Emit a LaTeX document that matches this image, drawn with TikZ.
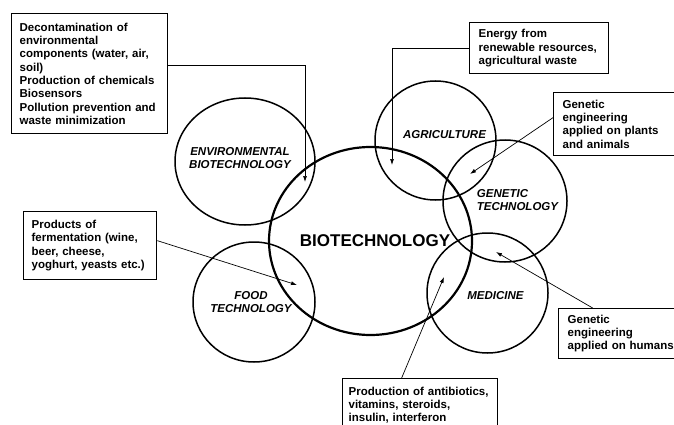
\documentclass[tikz,border=0pt]{standalone}
\usepackage{fontspec}
\setmainfont{Liberation Sans}
\usetikzlibrary{arrows.meta,shapes.geometric}
\tikzset{
    infobox/.style={draw,line width=1.3pt,align=left,anchor=north west,inner xsep=8pt,inner ysep=0pt,
        font=\fontsize{11.5}{13.3}\selectfont\bfseries},
    field/.style={draw,ellipse,line width=1.5pt,inner sep=0pt},
    fieldlabel/.style={align=center,font=\fontsize{11.5}{12.5}\selectfont\bfseries\itshape},
    conn/.style={-{Latex[length=6pt,width=4pt]},line width=0.7pt}
}
\begin{document}
\begin{tikzpicture}[x=1pt,y=-1pt]
    \useasboundingbox (0,0) rectangle (674,425);
    % circles
    \node[field,minimum width=140,minimum height=127] (env) at (245,161.5) {};
    \node[field,minimum width=121,minimum height=119] (agri) at (435.5,140.5) {};
    \node[field,minimum width=124,minimum height=122] (gen) at (505,201) {};
    \node[field,minimum width=121,minimum height=120] (med) at (487.5,293) {};
    \node[field,minimum width=122,minimum height=120] (food) at (254,302) {};
    \node[field,line width=2.2pt,minimum width=203,minimum height=188] (bio) at (370.5,241) {};
    % circle labels
    \node[fieldlabel] (envlabel) at (240,158) {ENVIRONMENTAL\\BIOTECHNOLOGY};
    \node[fieldlabel] (agrilabel) at (444.5,134.5) {AGRICULTURE};
    \node[fieldlabel,align=left] (genlabel) at (517.5,200) {GENETIC\\TECHNOLOGY};
    \node[fieldlabel] (medlabel) at (495.5,295.5) {MEDICINE};
    \node[fieldlabel] (foodlabel) at (251,302) {FOOD\\TECHNOLOGY};
    \node[font=\fontsize{17}{20}\selectfont\bfseries] (biolabel) at (375,241) {BIOTECHNOLOGY};
    % boxes
    \node[infobox,text width=140,minimum height=120] (envbox) at (11,13)
        {Decontamination of\\environmental\\components (water, air,\\soil)\\Production of chemicals\\Biosensors\\Pollution prevention and\\waste minimization};
    \node[infobox,inner xsep=9pt,text width=121,minimum height=51] (energybox) at (469,22)
        {Energy from\\renewable resources,\\agricultural waste};
    \node[infobox,inner xsep=9pt,text width=119,minimum height=63] (plantsbox) at (553,92)
        {Genetic\\engineering\\applied on plants\\and animals};
    \node[infobox,text width=117,minimum height=68] (fermbox) at (23,211)
        {Products of\\fermentation (wine,\\beer, cheese,\\yoghurt, yeasts etc.)};
    \node[infobox,inner xsep=9pt,text width=114,minimum height=50] (humansbox) at (558,308)
        {Genetic\\engineering\\applied on humans};
    \node[infobox,inner xsep=6pt,text width=143,minimum height=53] (drugbox) at (342,378)
        {Production of antibiotics,\\vitamins, steroids,\\insulin, interferon};
    % arrow tips
    \coordinate (envtip) at (305,182);
    \coordinate (agritip) at (392,165);
    \coordinate (gentip) at (470,174);
    \coordinate (foodtip) at (297,285);
    \coordinate (humantip) at (496,252);
    \coordinate (medtip) at (444,277);
    % connectors
    \draw[conn] ([yshift=8pt]envbox.east) -| (envtip);
    \draw[conn] (energybox.west) -| (agritip);
    \draw[conn] ([yshift=6.5pt]plantsbox.west) -- (gentip);
    \draw[conn] ([yshift=5pt]fermbox.east) -- (foodtip);
    \draw[conn] ([xshift=-32pt]humansbox.north) -- (humantip);
    \draw[conn] ([xshift=-18.5pt]drugbox.north) -- (medtip);
\end{tikzpicture}
\end{document}
